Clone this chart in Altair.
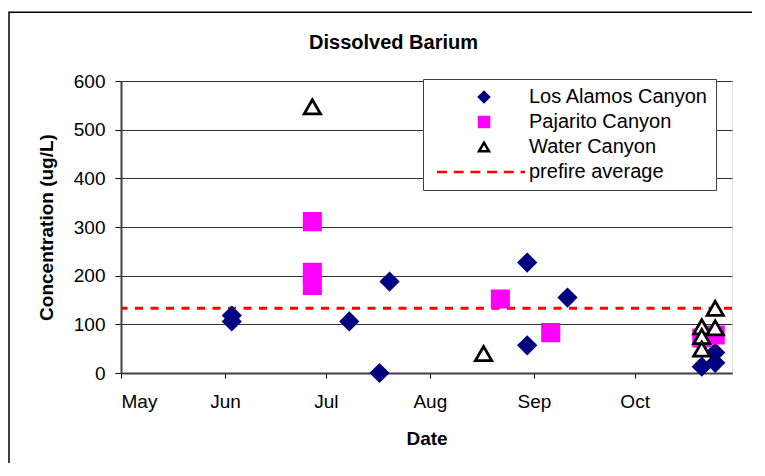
import altair as alt
import pandas as pd

FONT = "Liberation Sans"

# ---- data ----
la_dates = ["2000-06-03", "2000-06-03", "2000-07-08", "2000-07-17", "2000-07-20",
            "2000-08-30", "2000-08-30", "2000-09-11", "2000-10-21", "2000-10-25", "2000-10-25"]
la_values = [118, 106, 106, 0, 188, 227, 57, 155, 13, 42, 21]

pj_dates = ["2000-06-27", "2000-06-27", "2000-06-27", "2000-08-22", "2000-09-06",
            "2000-10-21", "2000-10-25"]
pj_values = [311, 207, 180, 152, 83, 72, 78]

wc_dates = ["2000-06-27", "2000-08-17", "2000-10-21", "2000-10-21", "2000-10-21",
            "2000-10-25", "2000-10-25"]
wc_values = [547, 40, 95, 75, 49, 133, 93]

prefire_average = [133]

series_names = ["Los Alamos Canyon", "Pajarito Canyon", "Water Canyon", "prefire average"]
month_ticks = [5, 6, 7, 8, 9, 10]
y_ticks = [0, 100, 200, 300, 400, 500, 600]

rows = []
for name, ds, vs in [(series_names[0], la_dates, la_values),
                     (series_names[1], pj_dates, pj_values),
                     (series_names[2], wc_dates, wc_values)]:
    for d, v in zip(ds, vs):
        rows.append({"date": d, "value": v, "series": name})
df = pd.DataFrame(rows)
df["order"] = df["series"].map({n: i for i, n in enumerate(series_names)})

# dashed-line legend glyph (custom symbol path)
DASH = ("M-9.4,0L-7.4,0M-6.06,0L-4.06,0M-2.72,0L-0.72,0M0.62,0L2.62,0"
        "M3.96,0L5.96,0M7.3,0L8.2,0")
shape_range = ["diamond", "square", "triangle-up", DASH]
fill_range = ["#000080", "#FF00FF", "#FFFFFF", "transparent"]
stroke_range = ["#000080", "#FF00FF", "#000000", "#FF0000"]

legend = alt.Legend(title=None, orient="none", legendX=302, legendY=-2,
                    symbolSize=100, symbolStrokeWidth=2.5, symbolOpacity=1,
                    labelFontSize=20, labelFont=FONT, labelColor="black", labelLimit=400,
                    symbolOffset=43, labelOffset=35, padding=8, rowPadding=5,
                    strokeColor="#404040", fillColor="white")

x_enc = alt.X("date:T",
              scale=alt.Scale(type="utc", domain=[
                  alt.DateTime(year=2000, month=5, date=1, utc=True),
                  alt.DateTime(year=2000, month=10, date=30, utc=True)]),
              axis=alt.Axis(values=[alt.DateTime(year=2000, month=m, date=1, utc=True)
                                    for m in month_ticks],
                            format="%b", title="Date", grid=False,
                            labelFontSize=19, labelFont=FONT, labelColor="black",
                            labelPadding=14, tickSize=5, tickColor="black",
                            domainColor="#404040", domainWidth=2,
                            titleFontSize=19, titleFont=FONT, titleFontWeight="bold",
                            titleY=65, titleBaseline="middle"))

y_enc = alt.Y("value:Q",
              scale=alt.Scale(domain=[0, 600], nice=False),
              axis=alt.Axis(values=y_ticks, title="Concentration (ug/L)",
                            grid=True, gridColor="#333333", gridWidth=1,
                            labelFontSize=19, labelFont=FONT, labelColor="black",
                            labelPadding=10, tickSize=6, tickColor="black",
                            domainColor="#404040", domainWidth=2,
                            titleFontSize=19, titleFont=FONT, titleFontWeight="bold",
                            titleX=-75, titleY=146, titleAngle=-90,
                            titleAlign="center", titleBaseline="middle"))

points = alt.Chart(df).mark_point(size=265, strokeWidth=2.8, opacity=1).encode(
    x=x_enc,
    y=y_enc,
    shape=alt.Shape("series:N", scale=alt.Scale(domain=series_names, range=shape_range),
                    legend=legend),
    fill=alt.Fill("series:N", scale=alt.Scale(domain=series_names, range=fill_range),
                  legend=legend),
    stroke=alt.Stroke("series:N", scale=alt.Scale(domain=series_names, range=stroke_range),
                      legend=legend),
    order=alt.Order("order:Q"),
)

rule = alt.Chart(pd.DataFrame({"avg": prefire_average})).mark_rule(
    color="#FF0000", strokeWidth=3, strokeDash=[8, 7.5]
).encode(y=alt.Y("avg:Q"))

frame = alt.Chart(pd.DataFrame({"f": [0]})).mark_rect(
    fill="transparent", stroke="black", strokeWidth=1.5
).encode(x=alt.value(-112), x2=alt.value(700), y=alt.value(-68.7), y2=alt.value(480))

chart = alt.layer(frame, rule, points).properties(
    width=611, height=292,
    autosize=alt.AutoSizeParams(type="none"),
    padding={"left": 113, "top": 73, "right": 20, "bottom": 90},
    title=alt.TitleParams("Dissolved Barium", fontSize=20, font=FONT, fontWeight="bold",
                          color="black", anchor="middle", frame="group", dx=-33,
                          offset=0, dy=61, baseline="bottom"),
).configure_view(stroke="#808080", strokeWidth=2).configure(background="white")

chart.save("out.html", embed_options={"renderer": "svg", "actions": False})
